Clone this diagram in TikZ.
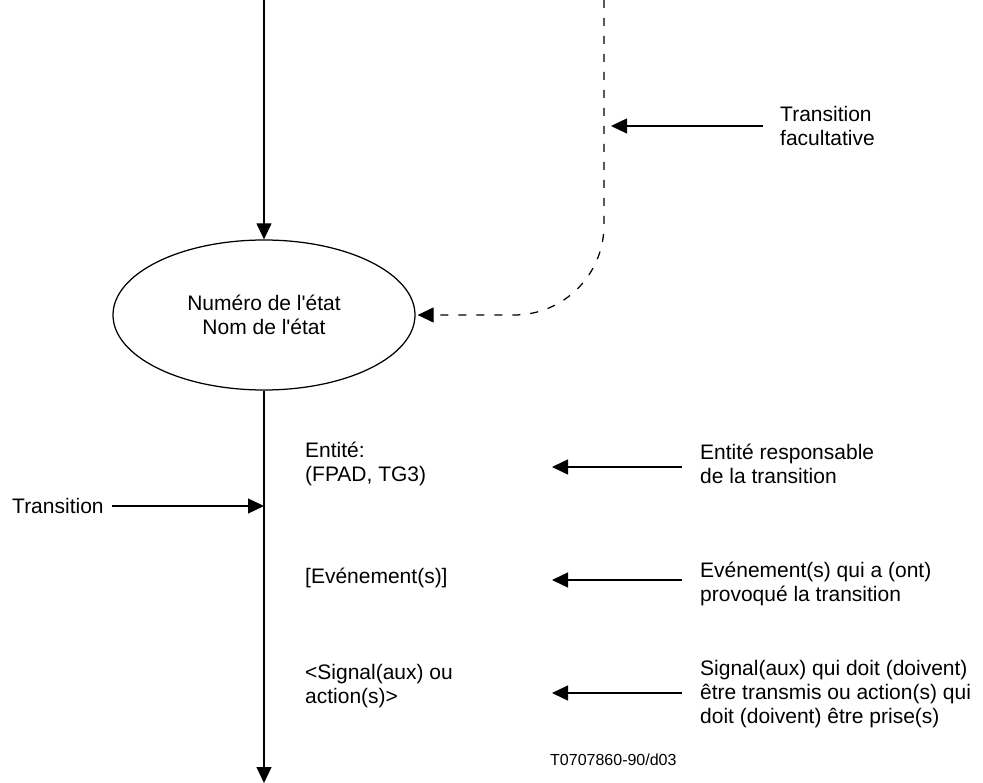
\documentclass[tikz,border=0pt]{standalone}
\usepackage{fontspec}
% plain family without TeX ligature mapping, so the apostrophe stays straight
\newfontfamily\labelfont{Liberation Sans}
\usetikzlibrary{arrows.meta,shapes.geometric}
\begin{document}
\begin{tikzpicture}[x=1pt,y=-1pt,
  wire/.style={line width=1.25pt,draw=black},
  tipped/.style={-{Triangle[length=16pt,width=15pt]}},
  dashwire/.style={wire,dash pattern=on 8pt off 10pt},
  lbl/.style={font=\labelfont\fontsize{21}{24}\selectfont,align=left,inner sep=0pt,anchor=west},
  codelbl/.style={font=\labelfont\fontsize{16}{19}\selectfont,inner sep=0pt,anchor=west},
  statebox/.style={ellipse,draw,line width=1.25pt,minimum width=302pt,minimum height=150pt,
    inner sep=0pt,align=center,font=\labelfont\fontsize{21}{24}\selectfont}]
\useasboundingbox (0,0) rectangle (983,783);

% state symbol
\node[statebox] (state) at (264,315) {Numéro de l'état\\Nom de l'état};

% main flow line
\coordinate (topin) at (264,0);
\coordinate (bottomout) at (264,783);
\draw[wire,tipped] (topin) -- (state.north);
\draw[wire,tipped] (state.south) -- (bottomout);

% optional transition (dashed)
\coordinate (dashtop) at (604,0);
\draw[dashwire,tipped,rounded corners=90pt] (dashtop) |- ([xshift=2pt]state.east);

% "Transition facultative" pointer
\node[lbl] (fac) at (780,126) {Transition\\facultative};
\coordinate (facin) at (611,126);
\draw[wire,tipped] ([xshift=-17pt]fac.west) -- (facin);

% "Transition" pointer onto the flow line
\node[lbl] (trans) at (12,506) {Transition};
\coordinate (transin) at (264,506);
\draw[wire,tipped] ([xshift=8pt]trans.east) -- (transin);

% labels along the transition
\node[lbl] (entL) at (305,464) {Entité:\\(FPAD, TG3)};
\node[lbl] (evL) at (305,578) {[Evénement(s)]};
\node[lbl] (sigL) at (305,686) {<Signal(aux) ou\\action(s)>};

% explanations on the right
\node[lbl] (entR) at (700,464) {Entité responsable\\de la transition};
\node[lbl] (evR) at (700,584) {Evénement(s) qui a (ont)\\provoqué la transition};
\node[lbl] (sigR) at (700,694) {Signal(aux) qui doit (doivent)\\être transmis ou action(s) qui\\doit (doivent) être prise(s)};

\coordinate (entA) at (682,467);
\coordinate (entB) at (552,467);
\coordinate (evA) at (682,580);
\coordinate (evB) at (552,580);
\coordinate (sigA) at (682,693);
\coordinate (sigB) at (552,693);
\draw[wire,tipped] (entA) -- (entB);
\draw[wire,tipped] (evA) -- (evB);
\draw[wire,tipped] (sigA) -- (sigB);

% figure reference
\node[codelbl] (code) at (550,760) {T0707860-90/d03};
\end{tikzpicture}
\end{document}
